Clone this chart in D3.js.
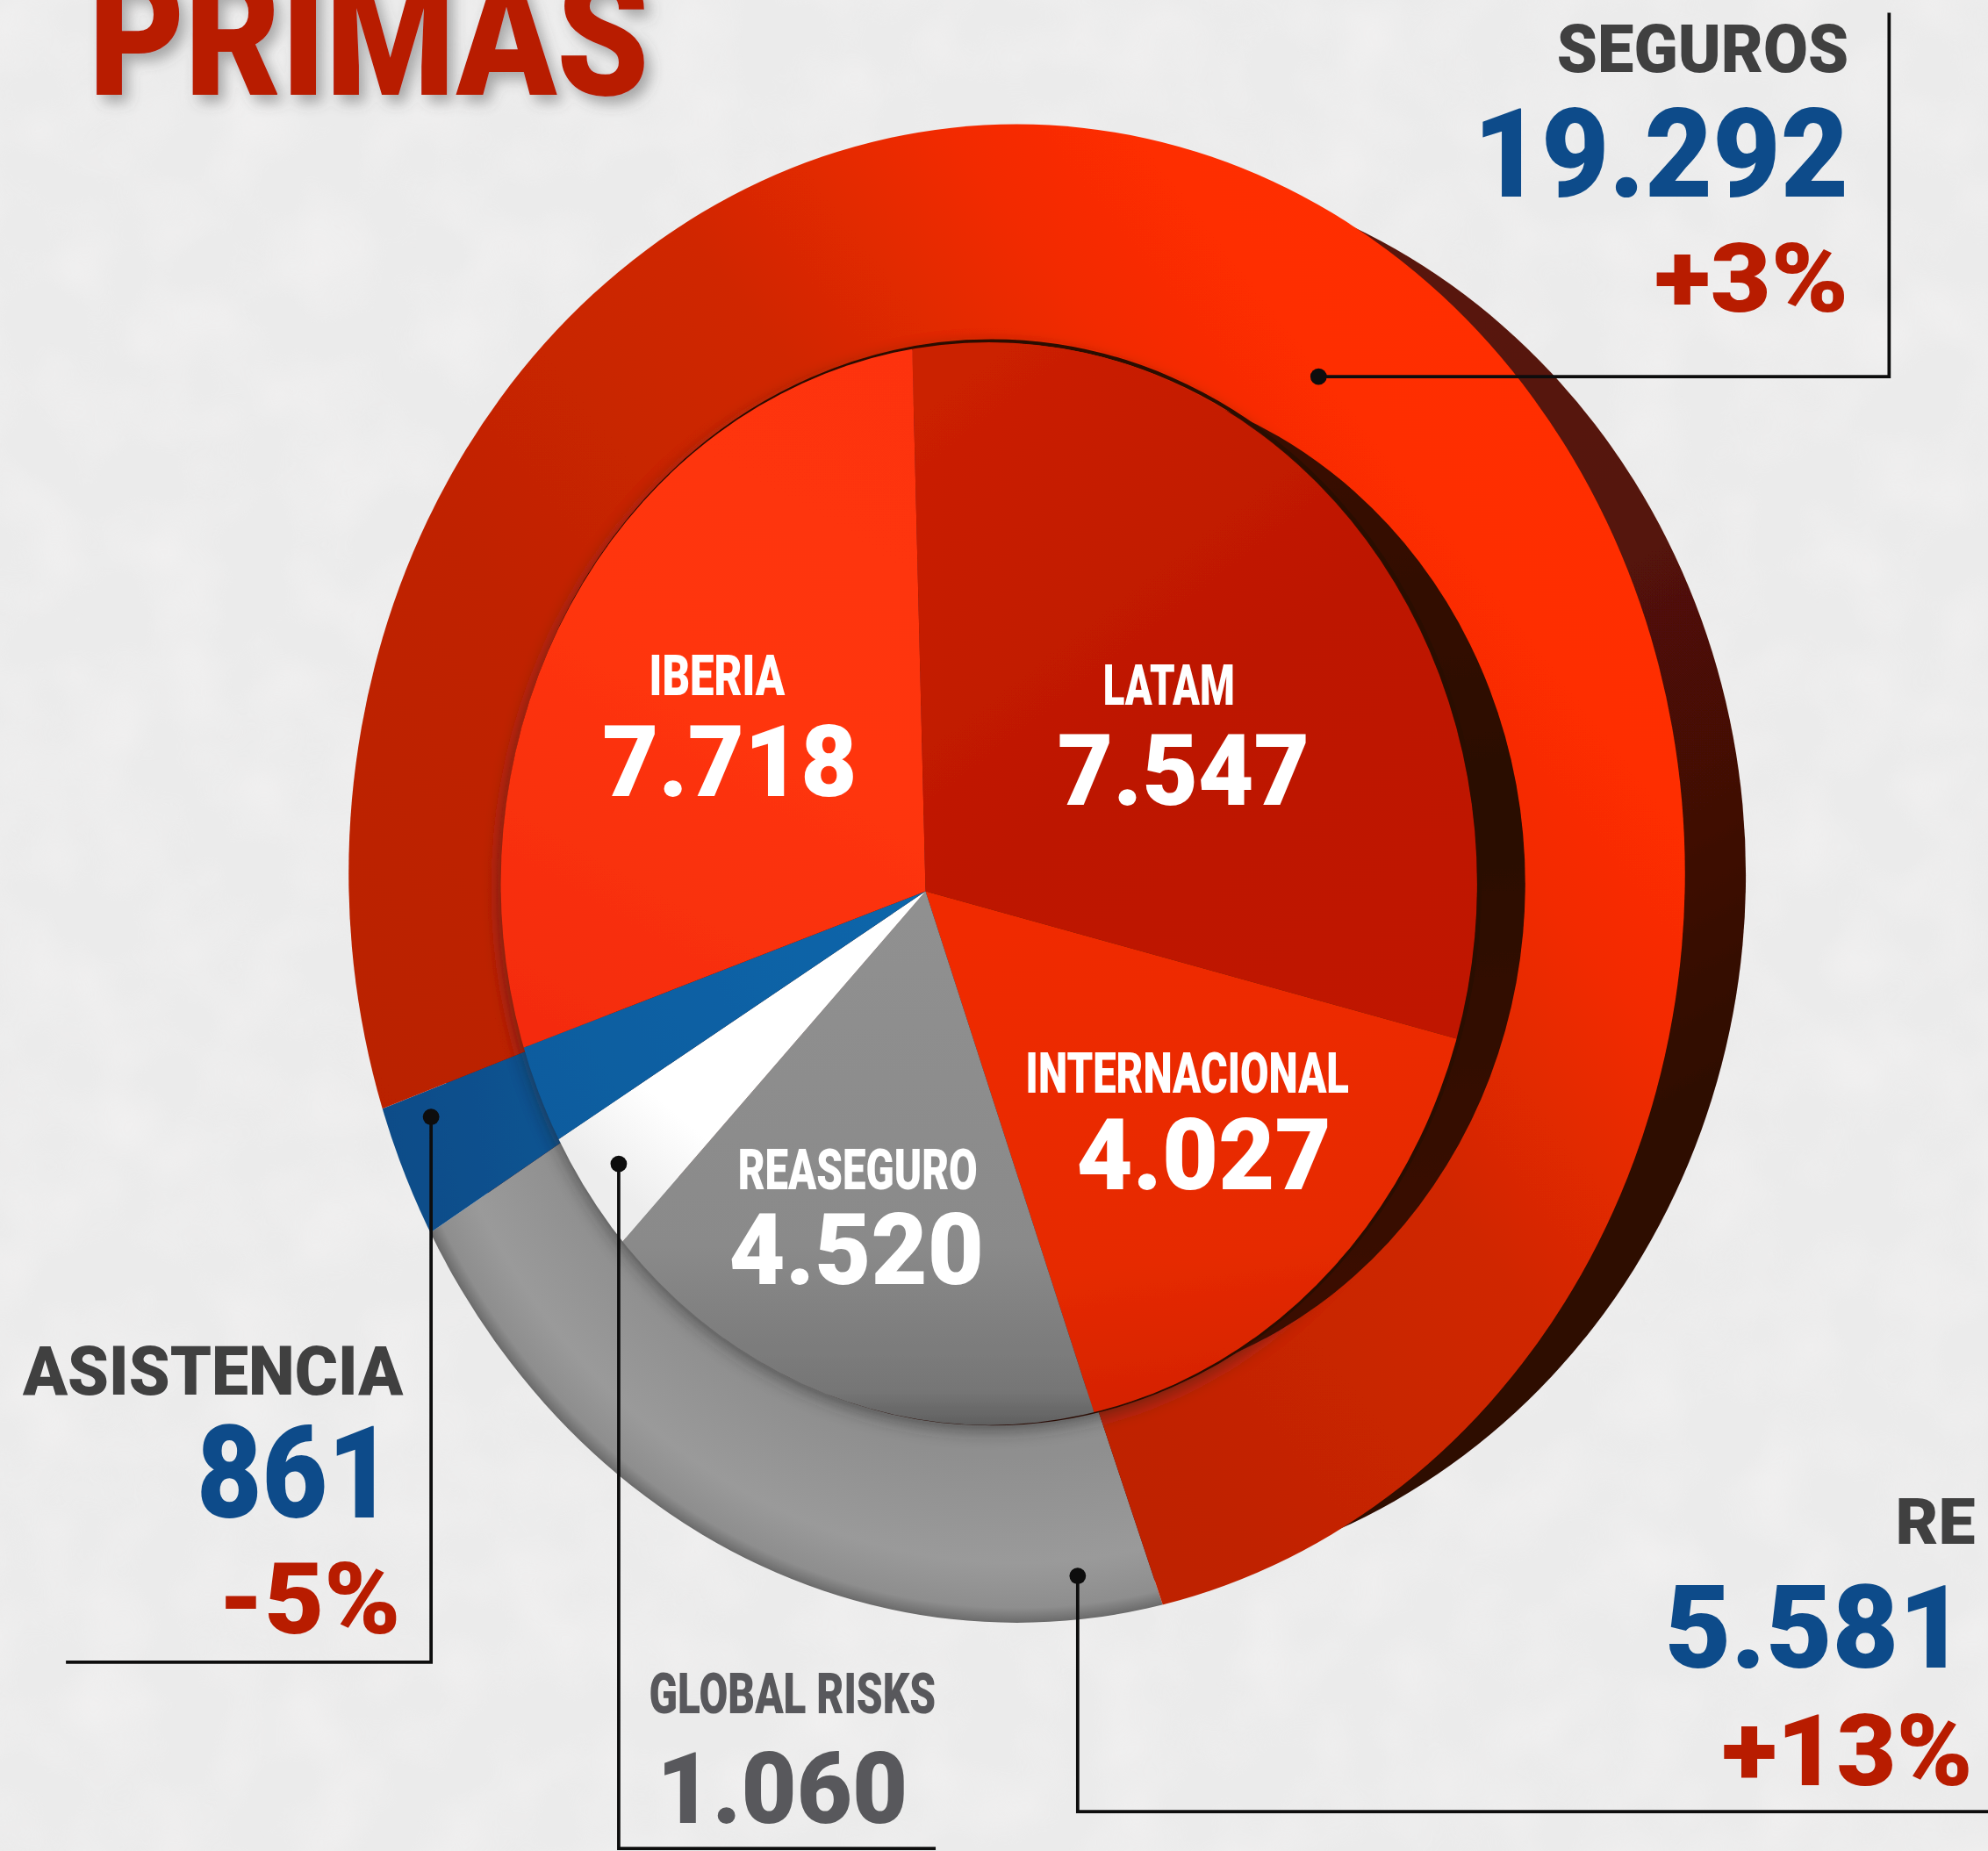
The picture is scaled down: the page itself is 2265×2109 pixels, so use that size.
<!DOCTYPE html>
<html><head><meta charset="utf-8">
<style>html,body{margin:0;padding:0;background:#ececec;overflow:hidden}svg{display:block}text{font-family:Roboto,"Liberation Sans",sans-serif;font-weight:900}</style>
<script src="https://cdn.jsdelivr.net/npm/d3@7"></script>
</head><body><script>
// ---- data ----
const innerNames  = ["LATAM","INTERNACIONAL","REASEGURO","GLOBAL RISKS","ASISTENCIA","IBERIA"];
const innerValues = [7547,4027,4520,1060,861,7718];
const outerNames  = ["RE","ASISTENCIA","SEGUROS"];
const outerValues = [5581,861,19292];
const outerChanges = {"RE":"+13%","ASISTENCIA":"-5%","SEGUROS":"+3%"};
const titleText = "PRIMAS";

// ---- layout (in units of the 1568-wide view) ----
const W=2265,H=2109,k=W/1568;
const apex=[730,703];
const sx=0.951, sy=1.049, rot=-0.5;          // the discs are seen slightly in perspective
const discTransform=`translate(${apex}) rotate(${rot}) scale(${sx},${sy})`;
const gradBack=`scale(${1/sx},${1/sy}) rotate(${-rot}) translate(${-apex[0]},${-apex[1]})`;
const outerE={cx:802,cy:689,rx:527,ry:591}, shadowE={cx:853,cy:690,rx:524,ry:560};
const innerE={cx:780,cy:697,rx:385,ry:427}, recessE={cx:835,cy:697,rx:368,ry:400};
const fmt=d3.formatLocale({decimal:",",thousands:".",grouping:[3],currency:["",""]}).format(",");
const val=n=>fmt(n);
const v={}; innerNames.forEach((n,i)=>v[n]=innerValues[i]); outerNames.forEach((n,i)=>v[n]=outerValues[i]);

const svg=d3.select("body").append("svg").attr("width",W).attr("height",H).attr("viewBox",`0 0 ${W} ${H}`);
const defs=svg.append("defs");
function linear(id,x1,y1,x2,y2,stops,disc=true){const g=defs.append("linearGradient").attr("id",id).attr("gradientUnits","userSpaceOnUse").attr("x1",x1).attr("y1",y1).attr("x2",x2).attr("y2",y2);if(disc)g.attr("gradientTransform",gradBack);stops.forEach(s=>g.append("stop").attr("offset",s[0]).attr("stop-color",s[1]));}
linear("gSeg",330,1050,1250,330,[[0,"#b81f06"],[.35,"#c02305"],[.6,"#d02704"],[.78,"#f22b04"],[.88,"#fe2d04"],[1,"#ff2e05"]]);
linear("gLat",760,300,1150,800,[[0,"#cb2002"],[.5,"#bd1700"],[1,"#c01800"]]);
linear("gInt",900,720,950,1110,[[0,"#f02c06"],[.7,"#e62a05"],[1,"#d42202"]]);
linear("gIbe",420,800,720,280,[[0,"#f42c08"],[.5,"#ff3510"],[1,"#fd3310"]]);
linear("gRea",700,720,700,1125,[[0,"#909090"],[.65,"#8a8a8a"],[.93,"#767676"],[1,"#5f5f5f"]]);
linear("gBlu",420,880,720,705,[[0,"#0f5c9e"],[1,"#1066aa"]]);
linear("gBluO",300,900,450,880,[[0,"#0d4c88"],[1,"#0f5492"]]);
linear("gWhi",500,950,700,720,[[0,"#ededed"],[.25,"#ffffff"],[1,"#ffffff"]]);
linear("gShad",900,200,1300,900,[[0,"#5b1408"],[.5,"#541207"],[1,"#2d0905"]],false);
linear("gRec",1000,320,1100,1000,[[0,"#3a0d06"],[.5,"#2a0804"],[1,"#3a0d06"]],false);
const rg=defs.append("radialGradient").attr("id","gGry").attr("gradientUnits","userSpaceOnUse").attr("cx",0).attr("cy",0).attr("r",1).attr("gradientTransform",`${gradBack} translate(${outerE.cx},${outerE.cy}) scale(${outerE.rx},${outerE.ry})`);
[[0.6,"#8e8e8e"],[.78,"#8f8f8f"],[.92,"#9a9a9a"],[.98,"#8e8e8e"],[1,"#6a6a6a"]].forEach(s=>rg.append("stop").attr("offset",s[0]).attr("stop-color",s[1]));
const clip=(id,e)=>defs.append("clipPath").attr("id",id).append("ellipse").attr("cx",e.cx).attr("cy",e.cy).attr("rx",e.rx).attr("ry",e.ry);
clip("cOuter",outerE); clip("cInner",innerE);
const blur=(id,s)=>defs.append("filter").attr("id",id).attr("x","-20%").attr("y","-20%").attr("width","140%").attr("height","140%").append("feGaussianBlur").attr("stdDeviation",s);
blur("b1",0.5); blur("b8",7);
const ds=defs.append("filter").attr("id","tsh").attr("x","-10%").attr("y","-10%").attr("width","120%").attr("height","130%");
ds.append("feDropShadow").attr("dx",5).attr("dy",6).attr("stdDeviation",5).attr("flood-color","#555").attr("flood-opacity",.45);
const mott=defs.append("filter").attr("id","mott").attr("x",0).attr("y",0).attr("width","100%").attr("height","100%");
mott.append("feTurbulence").attr("type","fractalNoise").attr("baseFrequency",.012).attr("numOctaves",2).attr("seed",4);
mott.append("feColorMatrix").attr("values","0 0 0 0 .97  0 0 0 0 .95  0 0 0 0 .95  1.2 0 0 0 -.45");

svg.append("rect").attr("width",W).attr("height",H).attr("fill","#ebebeb");
svg.append("rect").attr("width",W).attr("height",H).attr("filter","url(#mott)").attr("opacity",.55);
const root=svg.append("g").attr("transform",`scale(${k})`).attr("filter","url(#b1)");

const ell=(p,e)=>p.append("ellipse").attr("cx",e.cx).attr("cy",e.cy).attr("rx",e.rx).attr("ry",e.ry);
ell(root,shadowE).attr("fill","url(#gShad)");

// outer ring
const bigArc=d3.arc().innerRadius(0).outerRadius(1100);
const outerFill={"SEGUROS":"url(#gSeg)","RE":"url(#gGry)","ASISTENCIA":"url(#gBluO)"};
const outerStart=160.4*Math.PI/180;
const outerArcs=d3.pie().sort(null).value(d=>d.value).startAngle(outerStart).endAngle(outerStart+2*Math.PI)(outerNames.map((n,i)=>({name:n,value:outerValues[i]})));
root.append("g").attr("clip-path","url(#cOuter)").append("g").attr("transform",discTransform)
  .selectAll("path").data(outerArcs).join("path").attr("d",bigArc).attr("fill",d=>outerFill[d.data.name]);

// recess and soft shadow around the inner pie
const recess=root.append("g").attr("clip-path","url(#cOuter)");
ell(recess,{...innerE,cy:innerE.cy+4}).attr("fill","#222").attr("opacity",.55).attr("filter","url(#b8)");
ell(recess,recessE).attr("fill","url(#gRec)");
ell(recess,{...innerE,cx:innerE.cx+2,cy:innerE.cy-1}).attr("fill","none").attr("stroke","#2a0a04").attr("stroke-width",3);

// inner pie
const innerFill={"LATAM":"url(#gLat)","INTERNACIONAL":"url(#gInt)","REASEGURO":"url(#gRea)","GLOBAL RISKS":"url(#gWhi)","ASISTENCIA":"url(#gBlu)","IBERIA":"url(#gIbe)"};
const innerArcs=d3.pie().sort(null).value(d=>d.value).startAngle(-1*Math.PI/180).endAngle(359*Math.PI/180)(innerNames.map((n,i)=>({name:n,value:innerValues[i]})));
root.append("g").attr("clip-path","url(#cInner)").append("g").attr("transform",discTransform)
  .selectAll("path").data(innerArcs).join("path").attr("d",bigArc).attr("fill",d=>innerFill[d.data.name]);

// leader lines
const leaders=[
 {dot:[1040,297],path:[[1040,297],[1490,297],[1490,10]]},
 {dot:[340,881],path:[[340,881],[340,1311],[52,1311]]},
 {dot:[488,918],path:[[488,918],[488,1458],[738,1458]]},
 {dot:[850,1243],path:[[850,1243],[850,1429],[1568,1429]]}];
const line=d3.line();
root.selectAll("path.lead").data(leaders).join("path").attr("class","lead").attr("d",d=>line(d.path)).attr("fill","none").attr("stroke","#111").attr("stroke-width",2.6);
root.selectAll("circle.dot").data(leaders).join("circle").attr("class","dot").attr("cx",d=>d.dot[0]).attr("cy",d=>d.dot[1]).attr("r",6.5).attr("fill","#0a0a0a");

// text: [string, left, right, baseline, capHeight, colour]
const DK="#3f3f41",BL="#0f4c8a",RD="#b81a05",GR="#58595b",WH="#ffffff";
const labels=[
 ["SEGUROS",1228,1458,57,37,DK],[val(v.SEGUROS),1162,1458,155,69,BL],[outerChanges.SEGUROS,1305,1458,246,54,RD],
 ["ASISTENCIA",18,318,1100,38,DK],[val(v.ASISTENCIA),155,310,1197,72,BL],[outerChanges.ASISTENCIA,172,316,1288,56,RD],
 ["GLOBAL RISKS",512,738,1351,32,GR],[val(v["GLOBAL RISKS"]),518,716,1438,56,GR],
 ["RE",1495,1558,1218,36,DK],[val(v.RE),1313,1550,1315,65,BL],[outerChanges.RE,1358,1556,1408,56,RD],
 ["IBERIA",512,619,548,32,WH],[val(v.IBERIA),475,676,628,56,WH],
 ["LATAM",870,974,556,32,WH],[val(v.LATAM),834,1033,635,56,WH],
 ["INTERNACIONAL",809,1064,862,32,WH],[val(v.INTERNACIONAL),849,1050,938,56,WH],
 ["REASEGURO",582,771,938,32,WH],[val(v.REASEGURO),575,776,1013,56,WH]];
const caps=0.711;
root.append("g").selectAll("text").data(labels).join("text")
  .attr("x",d=>d[1]).attr("y",d=>d[3]).attr("font-size",d=>d[4]/caps).attr("fill",d=>d[5])
  .attr("textLength",d=>d[2]-d[1]).attr("lengthAdjust","spacingAndGlyphs").text(d=>d[0]);
root.append("text").attr("x",70).attr("y",75).attr("font-size",96/caps).attr("fill",RD)
  .attr("textLength",442).attr("lengthAdjust","spacingAndGlyphs").attr("filter","url(#tsh)").text(titleText);
</script></body></html>
